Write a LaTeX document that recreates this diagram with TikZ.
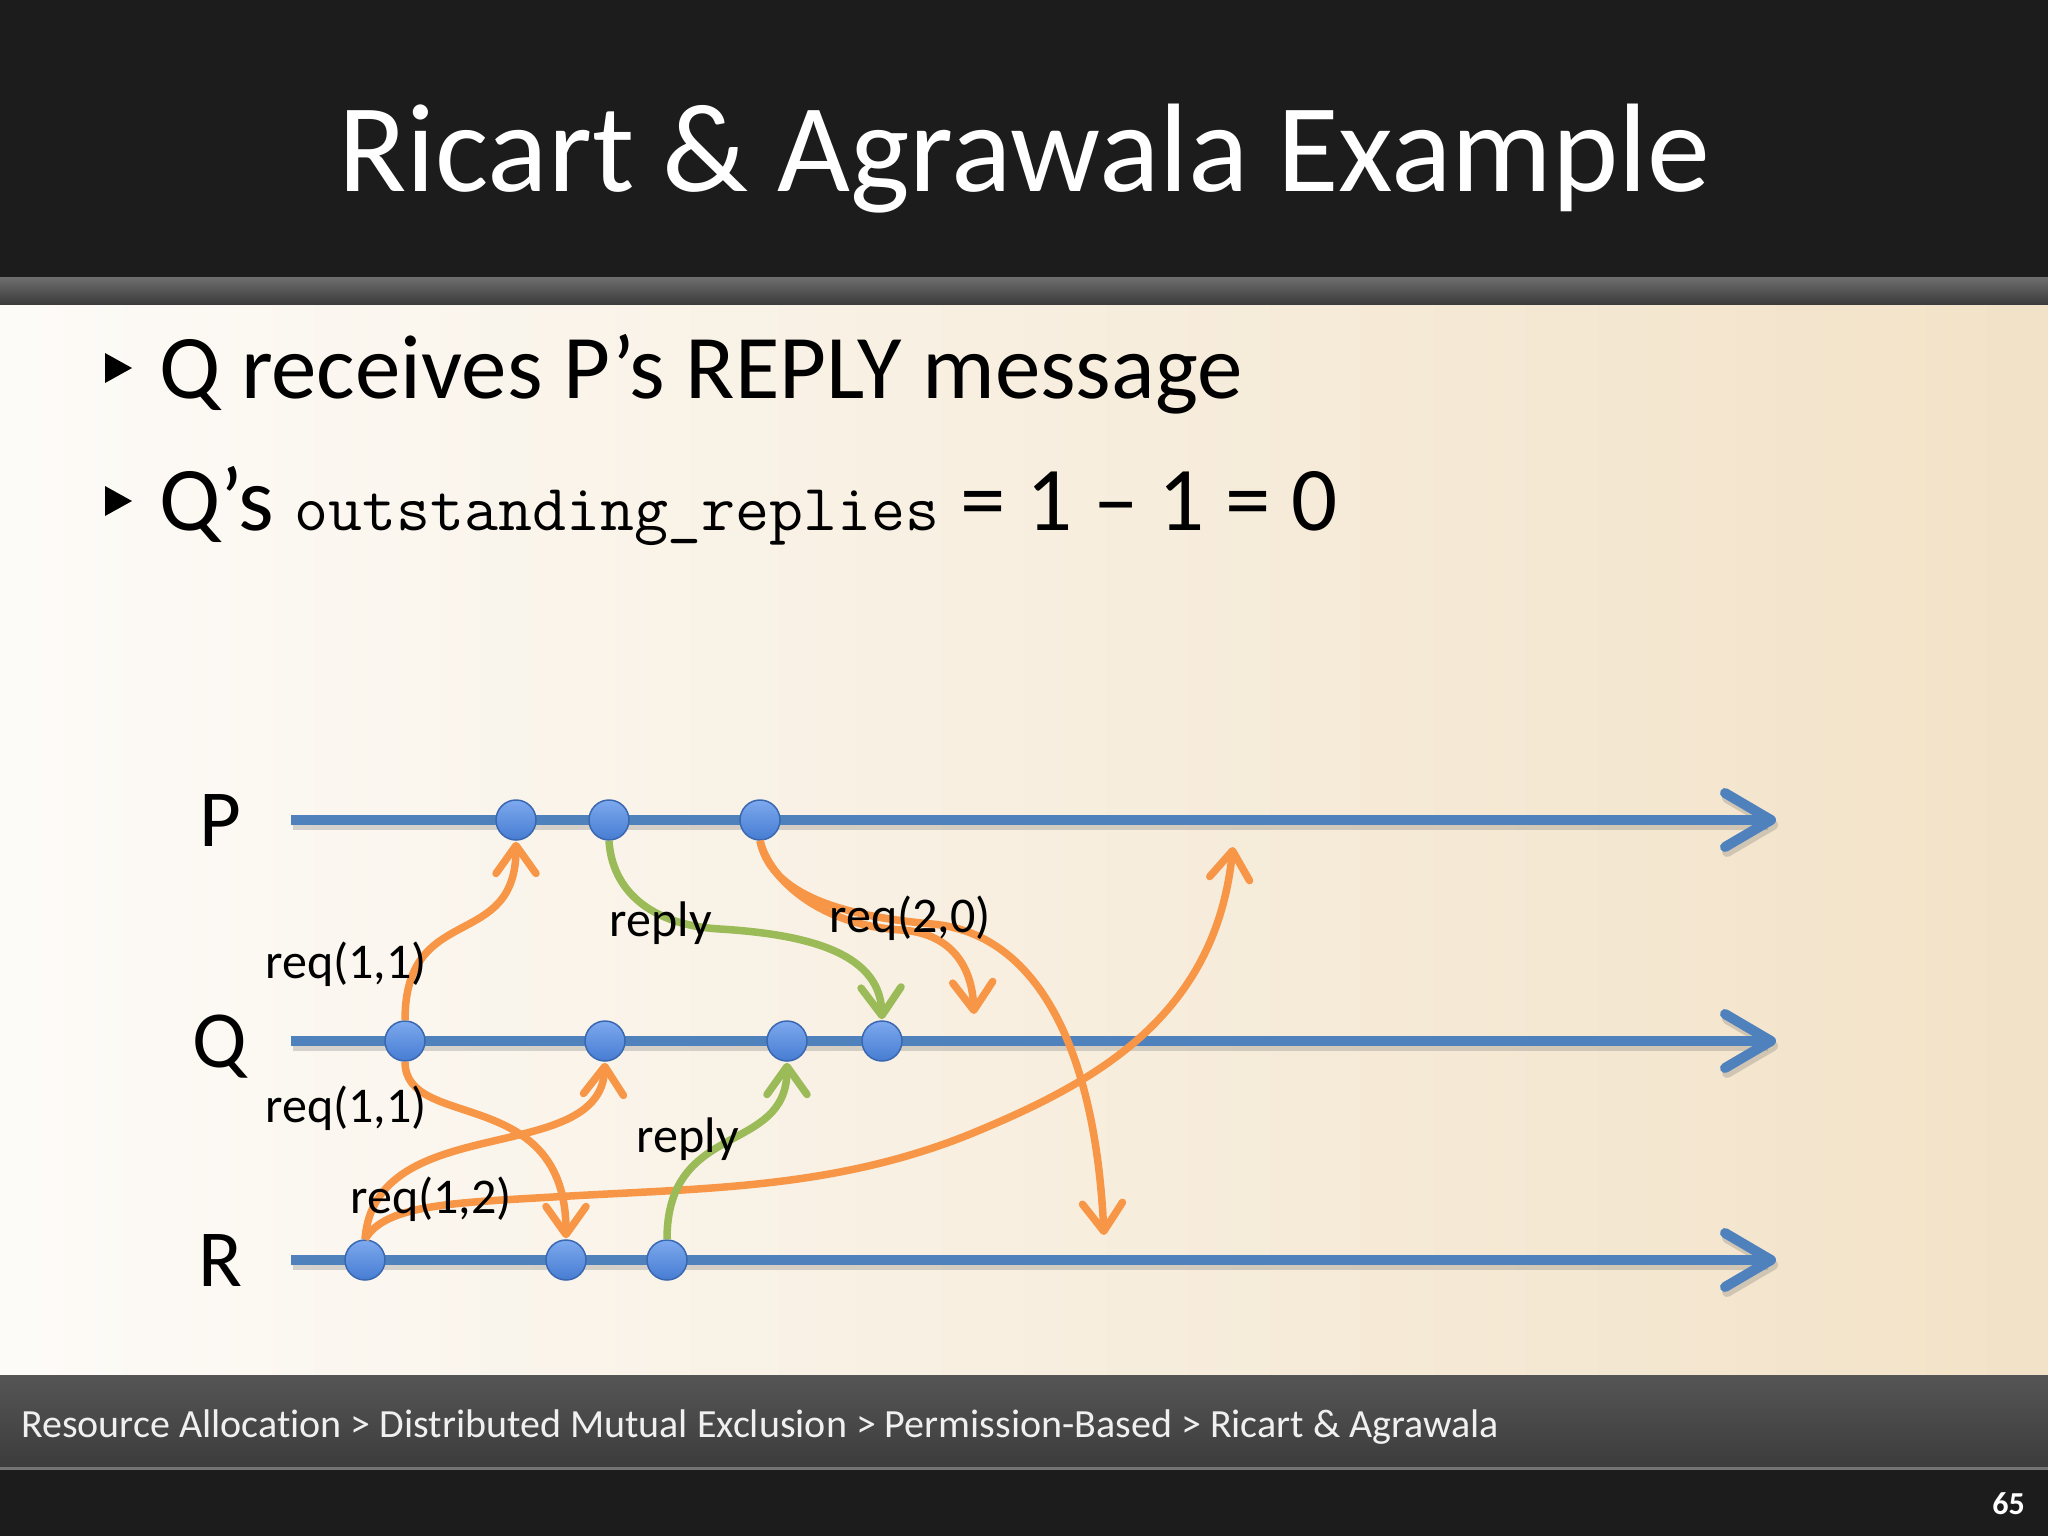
\documentclass[tikz,border=0pt]{standalone}
\usepackage{fontspec}
\setmainfont{Carlito}[Ligatures=NoCommon]
\usetikzlibrary{positioning, arrows.meta}

\definecolor{titleBlack}{HTML}{1C1C1C}
\definecolor{bandTop}{HTML}{6E6E6E}
\definecolor{bandBottom}{HTML}{3A3A3A}
\definecolor{footTop}{HTML}{555555}
\definecolor{footBottom}{HTML}{3C3C3C}
\definecolor{creamLeft}{HTML}{FDFBF8}
\definecolor{creamMid}{HTML}{FBF7EF}
\definecolor{creamRight}{HTML}{F2E2C7}
\definecolor{lineBlue}{HTML}{4F81BD}
\definecolor{eventTop}{HTML}{7DA9EE}
\definecolor{eventBottom}{HTML}{467CD2}
\definecolor{eventEdge}{HTML}{3A68B0}
\definecolor{msgOrange}{HTML}{F79646}
\definecolor{replyGreen}{HTML}{9BBB59}

\tikzset{TimeLine/.style={%
    draw=lineBlue,%
    line width=10pt,%
    -{Straight Barb[round,length=46pt,width=54pt]},%
}}
\tikzset{TimeShadow/.style={%
    draw=black!60,%
    opacity=0.25,%
    line width=10pt,%
    -{Straight Barb[round,length=46pt,width=54pt]},%
}}
\tikzset{Event/.style={%
    shape=circle,%
    draw=eventEdge,%
    top color=eventTop,%
    bottom color=eventBottom,%
    minimum size=40pt,%
    line width=1.5pt,%
    inner sep=0pt,%
}}
\tikzset{ReqEdge/.style={%
    draw=msgOrange,%
    line width=7.5pt,%
    shorten >=1pt,%
    -{Straight Barb[round,length=28pt,width=40pt]},%
}}
\tikzset{ReplyEdge/.style={%
    draw=replyGreen,%
    line width=7.5pt,%
    shorten >=1pt,%
    -{Straight Barb[round,length=28pt,width=40pt]},%
}}
\tikzset{ProcLabel/.style={%
    anchor=base,%
    inner sep=0pt,%
    font=\fontsize{81}{90}\selectfont,%
}}
\NewDocumentCommand{\msgLabel}{m}{%
    {\fontsize{50}{60}\selectfont #1}%
}

\begin{document}
\begin{tikzpicture}[x=1pt, y=-1pt]
    \useasboundingbox (0,0) rectangle (2048,1536);

    % slide background
    \fill[titleBlack] (0,0) rectangle (2048,277);
    \shade[top color=bandTop, bottom color=bandBottom] (0,277) rectangle (2048,305);
    \shade[left color=creamLeft, middle color=creamMid, right color=creamRight] (0,305) rectangle (2048,1375);
    \shade[top color=footTop, bottom color=footBottom] (0,1375) rectangle (2048,1467);
    \fill[titleBlack] (0,1467) rectangle (2048,1536);
    \draw[black!55, line width=3pt] (0,1468) -- (2048,1468);

    \node[anchor=base, text=white, inner sep=0pt,
        font=\fontsize{126}{150}\selectfont] (title) at (1024,191) {Ricart \& Agrawala Example};

    % bullets
    \fill (105,353) -- (132,368) -- (105,383) -- cycle;
    \fill (105,486) -- (132,501) -- (105,516) -- cycle;
    \node[anchor=base west, inner sep=0pt, font=\fontsize{91}{100}\selectfont] (item1) at (159,398)
        {Q receives P’s REPLY message};
    \node[anchor=base west, inner sep=0pt, font=\fontsize{91}{100}\selectfont] (item2) at (159,530)
        {Q’s {\ttfamily\fontsize{66}{72}\selectfont outstanding\_replies} = 1 – 1 = 0};

    % process time lines
    \coordinate (pStart) at (291,820);
    \coordinate (pEnd) at (1776,820);
    \coordinate (qStart) at (291,1041);
    \coordinate (qEnd) at (1776,1041);
    \coordinate (rStart) at (291,1260);
    \coordinate (rEnd) at (1776,1260);
    \foreach \proc in {p,q,r}{
        \draw[TimeShadow] ([shift={(2pt,-5pt)}]\proc Start) -- ([shift={(2pt,-5pt)}]\proc End);
        \draw[TimeLine] (\proc Start) -- (\proc End);
    }
    \node[ProcLabel] (lblP) at (220,846) {P};
    \node[ProcLabel] (lblQ) at (220,1067) {Q};
    \node[ProcLabel] (lblR) at (220,1286) {R};

    % events
    \node[Event] (p1) at (516,820) {};
    \node[Event] (p2) at (609,820) {};
    \node[Event] (p3) at (760,820) {};
    \node[Event] (q1) at (405,1041) {};
    \node[Event] (q2) at (605,1041) {};
    \node[Event] (q3) at (787,1041) {};
    \node[Event] (q4) at (882,1041) {};
    \node[Event] (r1) at (365,1260) {};
    \node[Event] (r2) at (566,1260) {};
    \node[Event] (r3) at (667,1260) {};

    % messages still in transit
    \coordinate (farP) at (1233,846);
    \coordinate (holdQ) at (974,1015);
    \coordinate (holdR) at (1104,1236);

    \draw[ReqEdge] (q1.north) .. controls +(0,-120) and +(0,112) .. (p1.south);
    \draw[ReqEdge] (q1.south) .. controls +(0,70) and +(0,-156) .. (r2.north);
    \draw[ReqEdge] (r1.north) .. controls +(10,-130) and +(-5,106) .. (q2.south);
    \draw[ReqEdge] (r1.north) .. controls (385,1205) and (450,1203) .. (553,1197)
        .. controls (700,1188) and (830,1190) .. (968,1135)
        .. controls (1090,1085) and (1215,1020) .. (farP);
    \draw[ReqEdge] (p3.south) .. controls (770,880) and (820,925) .. (901,930)
        .. controls (950,933) and (972,965) .. (holdQ);
    \draw[ReqEdge] (p3.south) .. controls (770,890) and (830,915) .. (932,924)
        .. controls (1035,933) and (1095,1045) .. (holdR);
    \draw[ReplyEdge] (p2.south) .. controls (612,890) and (650,925) .. (720,929)
        .. controls (800,934) and (880,950) .. (q4.north);
    \draw[ReplyEdge] (r3.north) .. controls +(0,-120) and +(0,94) .. (q3.south);

    % message labels
    \node (lblReqQP) at (346,964) {\msgLabel{req(1,1)}};
    \node (lblReqQR) at (346,1108) {\msgLabel{req(1,1)}};
    \node (lblReqR) at (431,1199) {\msgLabel{req(1,2)}};
    \node (lblReqP) at (910,918) {\msgLabel{req(2,0)}};
    \node (lblReplyP) at (661,923) {\msgLabel{reply}};
    \node (lblReplyR) at (688,1139) {\msgLabel{reply}};

    % footer
    \node[anchor=base west, inner sep=0pt, text=white!94!black,
        font=\fontsize{40}{48}\selectfont] (crumbs) at (21,1437)
        {Resource Allocation > Distributed Mutual Exclusion > Permission-Based > Ricart \& Agrawala};
    \node[anchor=base east, inner sep=0pt, text=white,
        font=\bfseries\fontsize{32}{38}\selectfont] (pageNo) at (2025,1514) {65};
\end{tikzpicture}
\end{document}
